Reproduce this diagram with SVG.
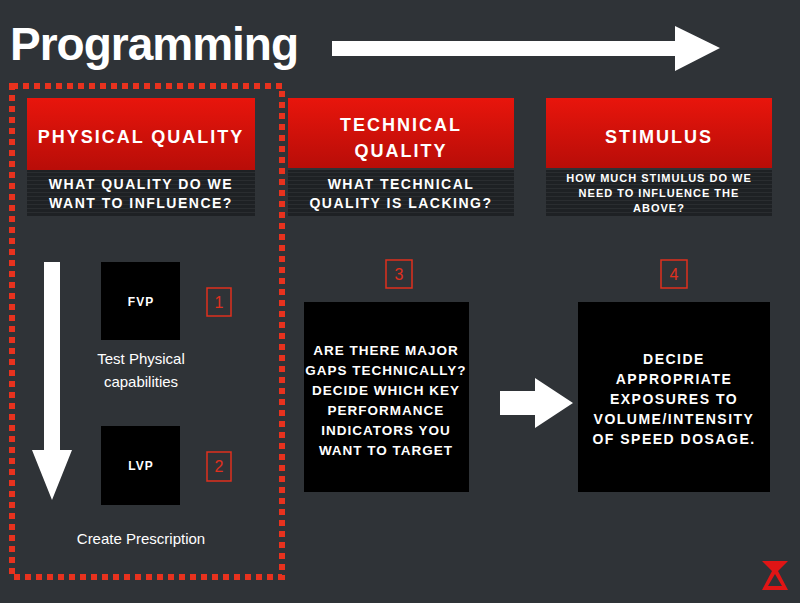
<svg xmlns="http://www.w3.org/2000/svg" width="800" height="603" viewBox="0 0 800 603">
<defs>
<linearGradient id="rg" x1="0" y1="0" x2="0" y2="1"><stop offset="0" stop-color="#e8150c"/><stop offset="1" stop-color="#b80d08"/></linearGradient>
<pattern id="st" width="4" height="4" patternUnits="userSpaceOnUse"><rect width="4" height="4" fill="#1e2124"/><rect width="4" height="1" fill="#2a2d30"/></pattern>
</defs>
<style>
.h{font-family:"Liberation Sans",Arial,sans-serif;font-weight:bold;fill:#fff;text-anchor:middle;letter-spacing:2px}
.s{font-family:"Liberation Sans",Arial,sans-serif;font-weight:bold;fill:#fff;text-anchor:middle;letter-spacing:1.5px;font-size:14px}
.g{letter-spacing:1px;font-size:13.5px}
.n{font-family:"Liberation Sans",Arial,sans-serif;fill:#fff;text-anchor:middle;font-size:15px}
.num{fill:none;stroke:#e0301e;stroke-width:1.5}
.numt{font-family:"Liberation Sans",Arial,sans-serif;fill:#e0301e;text-anchor:middle;font-size:16px}
.blk{fill:#000}
</style>
<rect width="800" height="603" fill="#2f3337"/>
<text x="10" y="60" font-family="Liberation Sans,Arial,sans-serif" font-weight="bold" font-size="46" fill="#fff" letter-spacing="-1">Programming</text>
<g id="connectors">
<polygon points="332,41 675,41 675,26 720,48 675,71 675,56 332,56" fill="#fff"/>
<polygon points="44,262 60,262 60,450 72,450 52,500 32,450 44,450" fill="#fff"/>
<polygon points="500,391 535,391 535,378 573,403 535,428 535,415 500,415" fill="#fff"/>
</g>
<rect x="12" y="86" width="270" height="491" fill="none" stroke="#e8321e" stroke-width="6" stroke-dasharray="6,5"/>
<g id="physical">
<rect x="27" y="98" width="228" height="72" fill="url(#rg)"/>
<rect x="27" y="170" width="228" height="46" fill="url(#st)"/>
<text class="h" x="141" y="143" font-size="18">PHYSICAL QUALITY</text>
<text class="s" x="141" y="189">WHAT QUALITY DO WE</text>
<text class="s" x="141" y="208">WANT TO INFLUENCE?</text>
</g>
<g id="technical">
<rect x="288" y="98" width="226" height="70" fill="url(#rg)"/>
<rect x="288" y="170" width="226" height="46" fill="url(#st)"/>
<text class="h" x="401" y="131" font-size="18">TECHNICAL</text>
<text class="h" x="401" y="157" font-size="18">QUALITY</text>
<text class="s" x="401" y="189">WHAT TECHNICAL</text>
<text class="s" x="401" y="208">QUALITY IS LACKING?</text>
</g>
<g id="stimulus">
<rect x="546" y="98" width="226" height="70" fill="url(#rg)"/>
<rect x="546" y="170" width="226" height="46" fill="url(#st)"/>
<text class="h" x="659" y="143" font-size="18">STIMULUS</text>
<text class="s" x="659" y="182" style="font-size:11px;letter-spacing:1px">HOW MUCH STIMULUS DO WE</text>
<text class="s" x="659" y="197" style="font-size:11px;letter-spacing:1px">NEED TO INFLUENCE THE</text>
<text class="s" x="659" y="212" style="font-size:11px;letter-spacing:1px">ABOVE?</text>
</g>
<g id="fvp">
<rect class="blk" x="101" y="262" width="79" height="78"/>
<text class="s" x="141" y="306" style="font-size:12px;letter-spacing:1px">FVP</text>
<rect class="num" x="207" y="288" width="24" height="28"/>
<text class="numt" x="219" y="308">1</text>
<text class="n" x="141" y="364">Test Physical</text>
<text class="n" x="141" y="387">capabilities</text>
</g>
<g id="lvp">
<rect class="blk" x="101" y="426" width="79" height="79"/>
<text class="s" x="141" y="470" style="font-size:12px;letter-spacing:1px">LVP</text>
<rect class="num" x="207" y="452" width="24" height="29"/>
<text class="numt" x="219" y="472">2</text>
<text class="n" x="141" y="544">Create Prescription</text>
</g>
<g id="gaps">
<rect class="num" x="386" y="260" width="26" height="28"/>
<text class="numt" x="399" y="280">3</text>
<rect class="blk" x="304" y="302" width="165" height="190"/>
<text class="s g" x="386" y="355">ARE THERE MAJOR</text>
<text class="s g" x="386" y="375">GAPS TECHNICALLY?</text>
<text class="s g" x="386" y="395">DECIDE WHICH KEY</text>
<text class="s g" x="386" y="415">PERFORMANCE</text>
<text class="s g" x="386" y="435">INDICATORS YOU</text>
<text class="s g" x="386" y="455">WANT TO TARGET</text>
</g>
<g id="decide">
<rect class="num" x="661" y="260" width="26" height="28"/>
<text class="numt" x="674" y="280">4</text>
<rect class="blk" x="578" y="302" width="192" height="190"/>
<text class="s" x="674" y="364">DECIDE</text>
<text class="s" x="674" y="384">APPROPRIATE</text>
<text class="s" x="674" y="404">EXPOSURES TO</text>
<text class="s" x="674" y="424">VOLUME/INTENSITY</text>
<text class="s" x="674" y="444">OF SPEED DOSAGE.</text>
</g>
<path d="M762,561 H788 L778,571 L788,590 H762 L772,571 Z M768,586 H782 L775,574 Z" fill="#e01515" fill-rule="evenodd"/>
</svg>
